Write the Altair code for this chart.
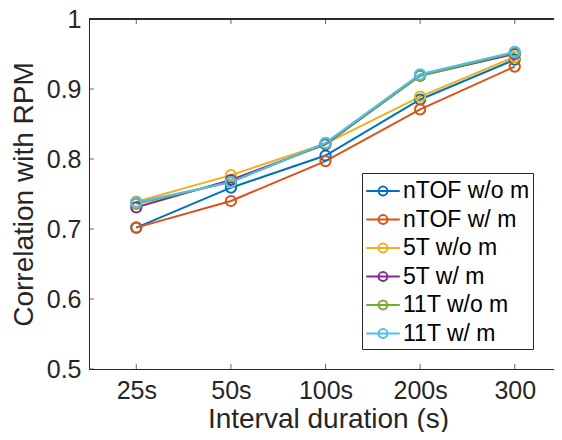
import json
import altair as alt
import pandas as pd

categories = ["25s", "50s", "100s", "200s", "300"]
series = ["nTOF w/o m", "nTOF w/ m", "5T w/o m", "5T w/ m", "11T w/o m", "11T w/ m"]
ntof_wo = [0.702, 0.759, 0.805, 0.885, 0.942]
ntof_w = [0.702, 0.740, 0.797, 0.871, 0.932]
t5_wo = [0.739, 0.777, 0.822, 0.889, 0.946]
t5_w = [0.731, 0.770, 0.821, 0.919, 0.950]
t11_wo = [0.736, 0.767, 0.822, 0.919, 0.952]
t11_w = [0.738, 0.767, 0.823, 0.921, 0.953]
colors = ["#0072BD", "#D95319", "#EDB120", "#7E2F8E", "#77AC30", "#4DBEEE"]
y_ticks = [0.5, 0.6, 0.7, 0.8, 0.9, 1.0]

values = [ntof_wo, ntof_w, t5_wo, t5_w, t11_wo, t11_w]
rows = []
for s, vals in zip(series, values):
    for i, v in enumerate(vals):
        rows.append({"series": s, "idx": i + 1, "value": v})
df = pd.DataFrame(rows)
xt = pd.DataFrame({"idx": list(range(1, len(categories) + 1))})
yt = pd.DataFrame({"v": y_ticks})

FONT = "Liberation Sans"
AX = "#262626"
xdom = [0.5, 5.415]
ydom = [0.5, 1.0]
label_expr = json.dumps(categories) + "[datum.value-1]"

xscale = alt.Scale(domain=xdom, nice=False, zero=False)
yscale = alt.Scale(domain=ydom, nice=False, zero=False)

sym_path = "M-1.2,0L1.2,0M-0.32,0A0.32,0.32,0,1,0,0.32,0A0.32,0.32,0,1,0,-0.32,0"
pad = "\u00a0\u00a0\u00a0"

lines = alt.Chart(df).mark_line(
    strokeWidth=2,
    point=alt.OverlayMarkDef(filled=False, size=105, strokeWidth=2),
).encode(
    x=alt.X("idx:Q", scale=xscale,
            axis=alt.Axis(values=[1, 2, 3, 4, 5], labelExpr=label_expr,
                          title="Interval duration (s)", ticks=False, grid=False,
                          domainColor=AX, labelColor=AX, titleColor=AX,
                          labelFont=FONT, titleFont=FONT, labelFontSize=25,
                          titleFontSize=28, titleFontWeight="normal",
                          labelPadding=9, titlePadding=2, titleX=239)),
    y=alt.Y("value:Q", scale=yscale,
            axis=alt.Axis(values=y_ticks, format=".1~f", title="Correlation with RPM",
                          ticks=False, grid=False, domainColor=AX, labelColor=AX,
                          titleColor=AX, labelFont=FONT, titleFont=FONT,
                          labelFontSize=25, titleFontSize=28, titleFontWeight="normal",
                          labelPadding=8, titlePadding=8)),
    color=alt.Color("series:N", scale=alt.Scale(domain=series, range=colors),
                    legend=alt.Legend(orient="none", legendX=273, legendY=154,
                                      title=None, fillColor="white", strokeColor=AX,
                                      padding=3, symbolType=sym_path, symbolSize=784,
                                      symbolStrokeWidth=2, symbolOffset=3,
                                      symbolFillColor="transparent",
                                      labelOffset=5, labelFontSize=23, labelFont=FONT,
                                      labelColor="#000000", rowPadding=1.5,
                                      labelExpr="datum.label + '" + pad + "'")),
    order=alt.Order("idx:Q"),
)

top_line = alt.Chart(xt).mark_rule(color=AX, strokeWidth=1).encode(
    x=alt.datum(xdom[0], scale=xscale),
    x2=alt.datum(xdom[1]),
    y=alt.datum(ydom[1], scale=yscale),
)

bottom_ticks = alt.Chart(xt).mark_tick(orient="vertical", size=5, thickness=1,
                                       color=AX, yOffset=-2.5).encode(
    x=alt.X("idx:Q", scale=xscale),
    y=alt.datum(ydom[0], scale=yscale),
)
top_ticks = alt.Chart(xt).mark_tick(orient="vertical", size=5, thickness=1,
                                    color=AX, yOffset=2.5).encode(
    x=alt.X("idx:Q", scale=xscale),
    y=alt.datum(ydom[1], scale=yscale),
)
left_ticks = alt.Chart(yt).mark_tick(orient="horizontal", size=5, thickness=1,
                                     color=AX, xOffset=2.5).encode(
    y=alt.Y("v:Q", scale=yscale),
    x=alt.datum(xdom[0], scale=xscale),
)

chart = alt.layer(top_line, bottom_ticks, top_ticks, left_ticks, lines).properties(
    width=465, height=350,
    autosize=alt.AutoSizeParams(type="none"),
    padding={"left": 81, "top": 11, "right": 0, "bottom": 63},
    background="white",
).configure_view(stroke=None)

chart.save("out.html", embed_options={"renderer": "svg", "actions": False})
